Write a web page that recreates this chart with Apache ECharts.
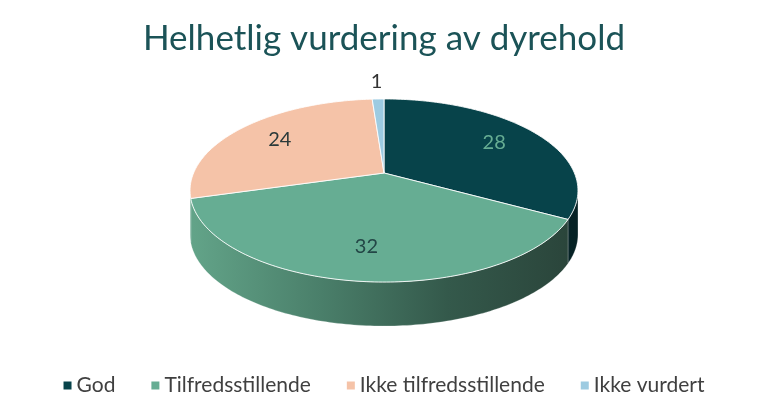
<!DOCTYPE html>
<html lang="no">
<head>
    <meta charset="UTF-8">
    <title>Helhetlig vurdering av dyrehold</title>
    <script src="https://cdn.jsdelivr.net/npm/echarts@6/dist/echarts.min.js"></script>
    <style>
        html, body { margin: 0; padding: 0; background: #fff; }
        #main { width: 768px; height: 417px; }
    </style>
</head>
<body>
    <div id="main"></div>
    <script>
        // data
        var categories = ['God', 'Tilfredsstillende', 'Ikke tilfredsstillende', 'Ikke vurdert'];
        var values = [28, 32, 24, 1];

        // colours: top face, side gradient, label text
        var topColors = ['#07434a', '#66ad93', '#f5c3a8', '#9dcbe1'];
        var sideStops = [
            ['#0c3438', '#062225'],
            ['#62a388', '#4a7f6a', '#34594b', '#2a443a'],
            ['#5f9f86', '#5a9a80'],
            ['#86b3c6', '#6f9aac']
        ];
        var labelColors = ['#66ad93', '#234646', '#2a3a3a', '#333333'];

        // 3d pie geometry (perspective tilt)
        var CX = 384, CY = 173, RX = 190.4, RY = 88.2, P = 0.191, DEPTH = 44;

        var total = values.reduce(function (a, b) { return a + b; }, 0);

        function project(theta, r, drop) {
            var u = r * Math.sin(theta), v = -r * Math.cos(theta);
            var w = 1 - P * v;
            return [CX + RX * u / w, CY + RY * v / w + (drop || 0)];
        }

        function arc(a0, a1, drop) {
            var pts = [];
            var n = Math.max(2, Math.ceil((a1 - a0) / (Math.PI / 180)));
            for (var k = 0; k <= n; k++) {
                pts.push(project(a0 + (a1 - a0) * k / n, 1, drop));
            }
            return pts;
        }

        function makeRender(idx) {
            return function (params, api) {
                var before = 0;
                for (var j = 0; j < idx; j++) before += values[j];
                var a0 = before / total * Math.PI * 2;
                var a1 = (before + values[idx]) / total * Math.PI * 2;
                var children = [];

                // side wall, only the part facing the viewer
                var vis0 = Math.acos(-P), vis1 = Math.PI * 2 - Math.acos(-P);
                var s0 = Math.max(a0, vis0), s1 = Math.min(a1, vis1);
                if (s1 > s0) {
                    var upper = arc(s0, s1, 0);
                    var lower = arc(s0, s1, DEPTH).reverse();
                    var stops = sideStops[idx].map(function (c, k, arr) {
                        return { offset: arr.length === 1 ? 0 : k / (arr.length - 1), color: c };
                    });
                    children.push({
                        type: 'polygon',
                        z2: 1,
                        shape: { points: upper.concat(lower) },
                        style: {
                            fill: {
                                type: 'linear', global: true,
                                x: CX - RX, y: 0, x2: CX + RX, y2: 0,
                                colorStops: stops
                            },
                            stroke: 'rgba(255,255,255,0.4)',
                            lineWidth: 0.6
                        }
                    });
                }

                // top face
                children.push({
                    type: 'polygon',
                    z2: 10,
                    shape: { points: [project(0, 0)].concat(arc(a0, a1, 0)) },
                    style: {
                        fill: topColors[idx],
                        stroke: 'rgba(255,255,255,0.85)',
                        lineWidth: 1
                    }
                });

                // value label
                var mid = (a0 + a1) / 2;
                var r = values[idx] / total < 0.05 ? 1.3 : 0.72;
                var lp = project(mid, r);
                children.push({
                    type: 'text',
                    z2: 20,
                    x: lp[0],
                    y: lp[1],
                    style: {
                        text: String(values[idx]),
                        fill: labelColors[idx],
                        fontSize: 20,
                        fontFamily: 'Lato',
                        align: 'center',
                        verticalAlign: 'middle'
                    }
                });

                return { type: 'group', children: children };
            };
        }

        var chart = echarts.init(document.getElementById('main'));

        var series = categories.map(function (name, i) {
            return {
                name: name,
                type: 'custom',
                coordinateSystem: 'none',
                itemStyle: { color: topColors[i] },
                data: [[values[i]]],
                renderItem: makeRender(i)
            };
        });

        chart.setOption({
            animation: false,
            title: {
                text: 'Helhetlig vurdering av dyrehold',
                left: 'center',
                top: 16,
                textStyle: {
                    fontFamily: 'Lato',
                    fontSize: 35,
                    fontWeight: 'normal',
                    color: '#1b5357'
                }
            },
            legend: {
                data: categories,
                bottom: 16,
                left: 'center',
                icon: 'rect',
                itemWidth: 8,
                itemHeight: 8,
                itemGap: 36,
                textStyle: {
                    fontFamily: 'Lato',
                    fontSize: 21,
                    color: '#404040'
                }
            },
            series: series
        });
    </script>
</body>
</html>
